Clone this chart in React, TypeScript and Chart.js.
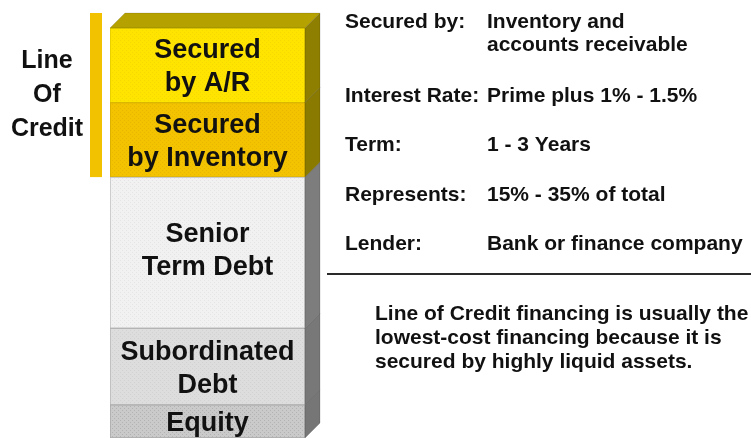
import React, { useEffect, useRef } from "react";
import { Chart, registerables } from "chart.js";

Chart.register(...registerables);

// ---- data (bottom to top) ----
const segments = ["Equity", "Subordinated Debt", "Senior Term Debt", "Secured by Inventory", "Secured by A/R"];
const segmentLines = [["Equity"], ["Subordinated", "Debt"], ["Senior", "Term Debt"], ["Secured", "by Inventory"], ["Secured", "by A/R"]];
const shares = [8, 18.5, 36.5, 18, 18];
const yMax = 99;
const bracketLabel = ["Line", "Of", "Credit"];
const infoLabels = ["Secured by:", "Interest Rate:", "Term:", "Represents:", "Lender:"];
const infoValues = [["Inventory and", "accounts receivable"], ["Prime plus 1% - 1.5%"], ["1 - 3 Years"], ["15% - 35% of total"], ["Bank or finance company"]];
const noteLines = ["Line of Credit financing is usually the", "lowest-cost financing because it is", "secured by highly liquid assets."];

// ---- styles ----
const frontColors = ["#cacaca", "#dddddd", "#f1f1f1", "#f3c300", "#ffe400"];
const dotColors = ["#b2b2b2", "#d2d2d2", "#e4e4e4", "#e8b800", "#f4da00"];
const edgeColors = ["#a9a9a9", "#b3b3b3", "#bdbdbd", "#d4ad00", "#e0c800"];
const sideColors = ["#767676", "#787878", "#7d7d7d", "#8a7a00", "#8f7f00"];
const topColor = "#b5a100";
const FONT = '"Liberation Sans", Arial, sans-serif';
const DX = 15;
const DY = 15;

function makePattern(base: string, dot: string) {
  const c = document.createElement("canvas");
  c.width = 4;
  c.height = 4;
  const g = c.getContext("2d")!;
  g.fillStyle = base;
  g.fillRect(0, 0, 4, 4);
  g.fillStyle = dot;
  g.fillRect(0, 0, 1, 1);
  g.fillRect(2, 2, 1, 1);
  return g.createPattern(c, "repeat") as CanvasPattern;
}

const decorPlugin = {
  id: "decor",
  afterDatasetsDraw(chart: any) {
    const ctx = chart.ctx as CanvasRenderingContext2D;
    const n = chart.data.datasets.length;
    const els: any[] = [];
    for (let i = 0; i < n; i++) els.push(chart.getDatasetMeta(i).data[0]);
    ctx.save();
    // side faces
    els.forEach((el, i) => {
      const right = el.x + el.width / 2;
      ctx.beginPath();
      ctx.moveTo(right, el.y);
      ctx.lineTo(right + DX, el.y - DY);
      ctx.lineTo(right + DX, el.base - DY);
      ctx.lineTo(right, el.base);
      ctx.closePath();
      ctx.fillStyle = sideColors[i];
      ctx.fill();
      ctx.strokeStyle = "rgba(0,0,0,0.15)";
      ctx.lineWidth = 1;
      ctx.stroke();
    });
    // top face
    const topEl = els[n - 1];
    const l = topEl.x - topEl.width / 2;
    const r = topEl.x + topEl.width / 2;
    ctx.beginPath();
    ctx.moveTo(l, topEl.y);
    ctx.lineTo(l + DX, topEl.y - DY);
    ctx.lineTo(r + DX, topEl.y - DY);
    ctx.lineTo(r, topEl.y);
    ctx.closePath();
    ctx.fillStyle = topColor;
    ctx.fill();
    ctx.strokeStyle = "rgba(0,0,0,0.12)";
    ctx.stroke();

    // segment labels
    ctx.fillStyle = "#111";
    ctx.textAlign = "center";
    ctx.textBaseline = "alphabetic";
    const size = 27;
    ctx.font = `bold ${size}px ${FONT}`;
    els.forEach((el, i) => {
      const lines = segmentLines[i];
      const lh = 33;
      const mid = (el.y + el.base) / 2 - (lines.length > 1 && el.base - el.y > 120 ? 4 : 0);
      lines.forEach((t, k) => {
        const cy = mid + (k - (lines.length - 1) / 2) * lh;
        ctx.fillText(t, el.x, cy + size * 0.36);
      });
    });

    // Line of credit bracket
    const inv = els[n - 2];
    const bx = l - 20;
    ctx.fillStyle = "#f2c200";
    ctx.fillRect(bx, topEl.y - DY, 12, inv.base - (topEl.y - DY));
    ctx.fillStyle = "#111";
    ctx.font = `bold 25px ${FONT}`;
    const bmid = (topEl.y - DY + inv.base) / 2;
    bracketLabel.forEach((t, k) => {
      const cy = bmid + (k - 1) * 34 - 2;
      ctx.fillText(t, 47, cy + 25 * 0.36);
    });

    // right info table
    ctx.textAlign = "left";
    ctx.font = `bold 21px ${FONT}`;
    const rowY = [28, 102, 151, 201, 250];
    infoLabels.forEach((t, i) => {
      ctx.fillText(t, 345, rowY[i]);
      infoValues[i].forEach((v, k) => ctx.fillText(v, 487, rowY[i] + k * 23));
    });
    // rule
    ctx.fillStyle = "#2a2a2a";
    ctx.fillRect(327, 273, 424, 2);
    // note
    ctx.fillStyle = "#111";
    noteLines.forEach((t, k) => ctx.fillText(t, 375, 320 + k * 24));
    ctx.restore();
  },
};

export default function App() {
  const ref = useRef<HTMLCanvasElement | null>(null);
  useEffect(() => {
    if (!ref.current) return;
    const chart = new Chart(ref.current, {
      type: "bar",
      data: {
        labels: ["Capital structure"],
        datasets: segments.map((name, i) => ({
          label: name,
          data: [shares[i]],
          backgroundColor: makePattern(frontColors[i], dotColors[i]),
          borderColor: edgeColors[i],
          borderWidth: 1,
          borderSkipped: false,
          barPercentage: 1,
          categoryPercentage: 1,
        })),
      },
      options: {
        responsive: false,
        animation: false,
        devicePixelRatio: 1,
        layout: { padding: { left: 110, right: 446, top: 28, bottom: 0 } },
        plugins: { legend: { display: false }, tooltip: { enabled: false }, title: { display: false } },
        scales: {
          x: { stacked: true, display: false },
          y: { stacked: true, display: false, min: 0, max: yMax },
        },
      },
      plugins: [decorPlugin],
    });
    return () => chart.destroy();
  }, []);
  return (
    <div style={{ position: "fixed", left: 0, top: 0, width: 751, height: 438, background: "#fff" }}>
      <canvas ref={ref} width={751} height={438} style={{ width: 751, height: 438, display: "block" }} />
    </div>
  );
}
